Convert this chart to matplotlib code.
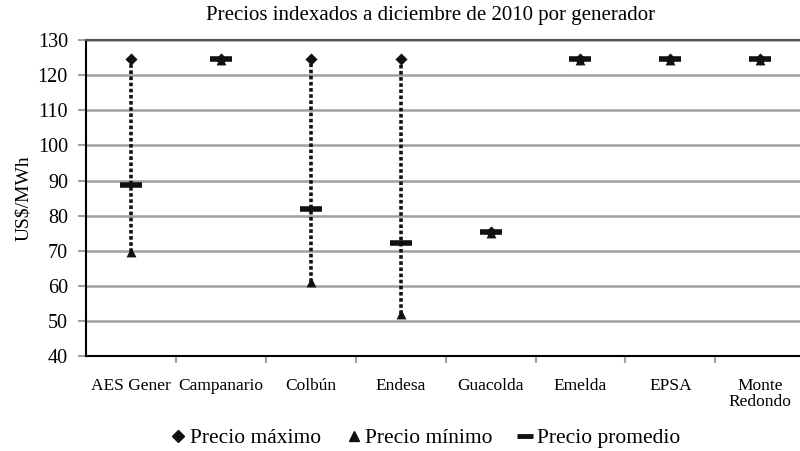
import matplotlib
matplotlib.use("Agg")
import matplotlib.pyplot as plt
from matplotlib.lines import Line2D

generadores = ["AES Gener", "Campanario", "Colbún", "Endesa", "Guacolda",
               "Emelda", "EPSA", "Monte\nRedondo"]
precio_max = [124.5, 124.5, 124.5, 124.5, 75.2, 124.5, 124.5, 124.5]
precio_min = [69.5, 124.3, 61.0, 52.0, 75.0, 124.3, 124.3, 124.3]
precio_prom = [88.7, 124.5, 82.0, 72.3, 75.2, 124.5, 124.5, 124.5]

plt.rcParams["font.family"] = ["Liberation Serif", "DejaVu Serif"]

fig = plt.figure(figsize=(8, 4.51), dpi=100)
ax = fig.add_axes([0.1075, 0.2106, 0.899, 0.7005])

x = list(range(len(generadores)))
for xi, lo, hi in zip(x, precio_min, precio_max):
    if hi - lo > 1:
        ax.plot([xi, xi], [lo, hi], color="#111111", lw=2.6,
                linestyle=(0, (1.0, 0.7)), zorder=2)

ax.scatter(x, precio_max, marker="D", s=38, color="#111111", zorder=4, linewidths=0)
ax.scatter(x, precio_min, marker="^", s=50, color="#111111", zorder=4, linewidths=0)
ax.scatter(x, precio_prom, marker="_", s=260, color="#111111", zorder=5, linewidths=4)

ax.set_xlim(-0.5, len(generadores) - 0.5)
ax.set_ylim(40, 130)
ax.set_yticks(range(40, 131, 10))
ax.yaxis.grid(True, color="#a0a0a0", lw=1.8)
ax.set_axisbelow(True)

ax.set_xticks([i + 0.5 for i in x[:-1]], minor=False)
ax.set_xticklabels([])
ax.set_xticks(x, minor=True)
ax.set_xticklabels(generadores, minor=True, fontsize=12.5, linespacing=0.95)
ax.tick_params(axis="x", which="minor", length=0, pad=16)
ax.tick_params(axis="x", which="major", length=5, width=1.5, color="#a0a0a0")
ax.tick_params(axis="y", length=6, width=1.5, color="#a0a0a0", labelsize=14.5, pad=7)

ax.spines["right"].set_visible(False)
ax.spines["top"].set_color("#555555")
ax.spines["top"].set_linewidth(1.5)
ax.spines["left"].set_linewidth(1.5)
ax.spines["bottom"].set_linewidth(1.5)

ax.set_ylabel("US$/MWh", fontsize=14, labelpad=4)
fig.text(0.538, 0.966, "Precios indexados a diciembre de 2010 por generador",
         ha="center", va="center", fontsize=15)

handles = [
    Line2D([], [], marker="D", linestyle="", color="#111111", markersize=6, label="Precio máximo"),
    Line2D([], [], marker="^", linestyle="", color="#111111", markersize=7, label="Precio mínimo"),
    Line2D([], [], marker="_", linestyle="", color="#111111", markersize=11,
           markeredgewidth=3.5, label="Precio promedio"),
]
fig.legend(handles=handles, loc="center", bbox_to_anchor=(0.53, 0.028), ncol=3,
           frameon=False, fontsize=15.5, handletextpad=0.05, columnspacing=1.0,
           handlelength=1.0)

fig.savefig("out.png", dpi=100)
